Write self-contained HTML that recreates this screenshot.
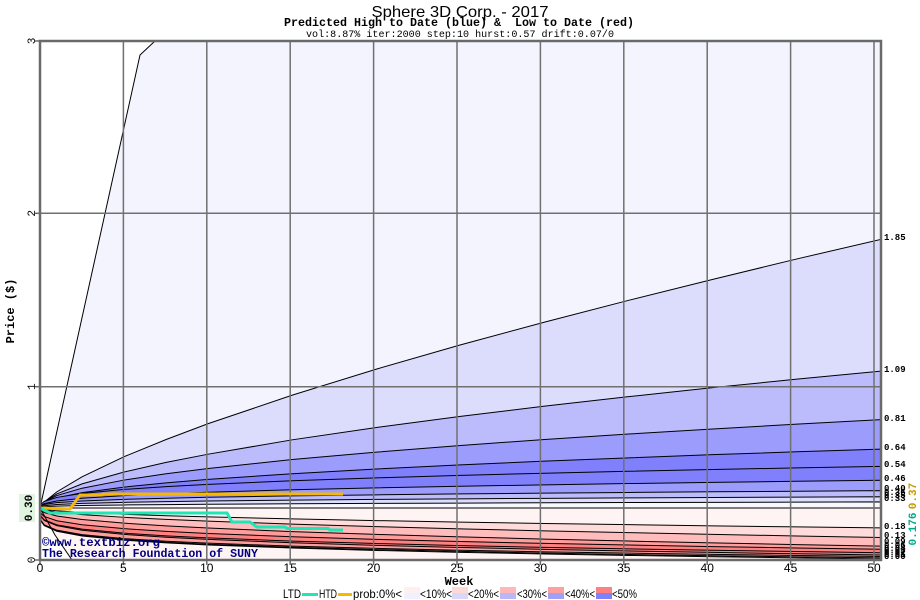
<!DOCTYPE html>
<html><head><meta charset="utf-8"><style>
html,body{margin:0;padding:0;background:#fff;}
svg{display:block;}
.vn{vector-effect:non-scaling-stroke;}
.mono{font-family:"Liberation Mono",monospace;}
.sans{font-family:"Liberation Sans",sans-serif;}
</style></head><body>
<svg width="920" height="600" viewBox="0 0 920 600" xmlns="http://www.w3.org/2000/svg">
<rect x="0" y="0" width="920" height="600" fill="#fff"/>
<defs><clipPath id="pc"><rect x="40" y="41" width="841" height="519"/></clipPath></defs>
<g clip-path="url(#pc)">
<!-- blue max band -->
<polygon points="40,508 140,55 155,41 881,41 881,508" fill="#F4F4FF"/>
<!-- blue percentiles -->
<path transform="translate(40 508) scale(0.841 -0.26867)" fill="#DCDCFC" stroke="#000" stroke-width="1" class="vn" d="M0,0L1,7L5,22L20,60L50,116L100,191L150,255L200,314L300,420L400,517L500,607L600,692L700,773L800,851L900,927L1000,1000L1000,0Z"/>
<path transform="translate(40 508) scale(0.841 -0.13693)" fill="#BCBCFC" stroke="#000" stroke-width="1" class="vn" d="M0,0L1,18L5,46L20,103L50,176L100,263L150,333L200,393L300,498L400,588L500,669L600,744L700,813L800,879L900,941L1000,1000L1000,0Z"/>
<path transform="translate(40 508) scale(0.841 -0.08840)" fill="#9C9CFC" stroke="#000" stroke-width="1" class="vn" d="M0,0L1,32L5,71L20,141L50,224L100,316L150,387L200,447L300,548L400,632L500,707L600,775L700,837L800,894L900,949L1000,1000L1000,0Z"/>
<path transform="translate(40 508) scale(0.841 -0.05893)" fill="#8080FC" stroke="#000" stroke-width="1" class="vn" d="M0,0L1,45L5,92L20,172L50,260L100,355L150,426L200,485L300,582L400,662L500,732L600,795L700,851L800,905L900,954L1000,1000L1000,0Z"/>
<path transform="translate(40 508) scale(0.841 -0.04160)" fill="#8080FC" stroke="#000" stroke-width="1" class="vn" d="M0,0L1,89L5,157L20,254L50,350L100,447L150,515L200,569L300,656L400,725L500,784L600,836L700,882L800,925L900,964L1000,1000L1000,0Z"/>
<path transform="translate(40 508) scale(0.841 -0.02773)" fill="#9C9CFC" stroke="#000" stroke-width="1" class="vn" d="M0,0L1,89L5,157L20,254L50,350L100,447L150,515L200,569L300,656L400,725L500,784L600,836L700,882L800,925L900,964L1000,1000L1000,0Z"/>
<path transform="translate(40 508) scale(0.841 -0.01733)" fill="#BCBCFC" stroke="#000" stroke-width="1" class="vn" d="M0,0L1,126L5,204L20,309L50,407L100,501L150,566L200,617L300,697L400,760L500,812L600,858L700,898L800,935L900,969L1000,1000L1000,0Z"/>
<path transform="translate(40 508) scale(0.841 -0.01127)" fill="#DCDCFC" stroke="#000" stroke-width="1" class="vn" d="M0,0L1,126L5,204L20,309L50,407L100,501L150,566L200,617L300,697L400,760L500,812L600,858L700,898L800,935L900,969L1000,1000L1000,0Z"/>
<path transform="translate(40 508) scale(0.841 -0.00607)" fill="#F8F8FF" stroke="#000" stroke-width="1" class="vn" d="M0,0L1,126L5,204L20,309L50,407L100,501L150,566L200,617L300,697L400,760L500,812L600,858L700,898L800,935L900,969L1000,1000L1000,0Z"/>
<!-- red min band -->
<polygon points="40,508 55,535 72,560 881,560 881,508" fill="#FFF4F4"/>
<path transform="translate(40 508) scale(0.841 0.05096)" fill="#FFDCDC" stroke="#000" stroke-width="1" class="vn" d="M0,0L1,251L5,346L20,457L50,549L100,631L150,685L200,725L300,786L400,833L500,870L600,903L700,931L800,956L900,979L1000,1000L1000,0Z"/>
<path transform="translate(40 508) scale(0.841 0.04992)" fill="#FFBCBC" stroke="#000" stroke-width="1" class="vn" d="M0,0L1,251L5,346L20,457L50,549L100,631L150,685L200,725L300,786L400,833L500,870L600,903L700,931L800,956L900,979L1000,1000L1000,0Z"/>
<path transform="translate(40 508) scale(0.841 0.04853)" fill="#FF9C9C" stroke="#000" stroke-width="1" class="vn" d="M0,0L1,251L5,346L20,457L50,549L100,631L150,685L200,725L300,786L400,833L500,870L600,903L700,931L800,956L900,979L1000,1000L1000,0Z"/>
<path transform="translate(40 508) scale(0.841 0.04697)" fill="#FF8080" stroke="#000" stroke-width="1" class="vn" d="M0,0L1,178L5,266L20,376L50,473L100,562L150,622L200,669L300,740L400,795L500,841L600,880L700,915L800,946L900,974L1000,1000L1000,0Z"/>
<path transform="translate(40 508) scale(0.841 0.04472)" fill="#FF8080" stroke="#000" stroke-width="1" class="vn" d="M0,0L1,178L5,266L20,376L50,473L100,562L150,622L200,669L300,740L400,795L500,841L600,880L700,915L800,946L900,974L1000,1000L1000,0Z"/>
<path transform="translate(40 508) scale(0.841 0.04125)" fill="#FF9C9C" stroke="#000" stroke-width="1" class="vn" d="M0,0L1,126L5,204L20,309L50,407L100,501L150,566L200,617L300,697L400,760L500,812L600,858L700,898L800,935L900,969L1000,1000L1000,0Z"/>
<path transform="translate(40 508) scale(0.841 0.03813)" fill="#FFBCBC" stroke="#000" stroke-width="1" class="vn" d="M0,0L1,63L5,120L20,209L50,302L100,398L150,468L200,525L300,618L400,693L500,758L600,815L700,867L800,915L900,959L1000,1000L1000,0Z"/>
<path transform="translate(40 508) scale(0.841 0.02947)" fill="#FFDCDC" stroke="#000" stroke-width="1" class="vn" d="M0,0L1,32L5,71L20,141L50,224L100,316L150,387L200,447L300,548L400,632L500,707L600,775L700,837L800,894L900,949L1000,1000L1000,0Z"/>
<path transform="translate(40 508) scale(0.841 0.01993)" fill="#FFF4F4" stroke="#000" stroke-width="1" class="vn" d="M0,0L1,32L5,71L20,141L50,224L100,316L150,387L200,447L300,548L400,632L500,707L600,775L700,837L800,894L900,949L1000,1000L1000,0Z"/>
<line x1="40" y1="508" x2="881" y2="508" stroke="#000" stroke-width="1"/>
<polyline points="40,508 140,55 155,41" fill="none" stroke="#000" stroke-width="1"/>
<polyline points="40,508 55,535 72,560" fill="none" stroke="#000" stroke-width="1"/>
<!-- grid -->
<g stroke="#707070" stroke-width="1.5">
<line x1="123.4" y1="41" x2="123.4" y2="560"/>
<line x1="206.8" y1="41" x2="206.8" y2="560"/>
<line x1="290.2" y1="41" x2="290.2" y2="560"/>
<line x1="373.6" y1="41" x2="373.6" y2="560"/>
<line x1="457" y1="41" x2="457" y2="560"/>
<line x1="540.4" y1="41" x2="540.4" y2="560"/>
<line x1="623.8" y1="41" x2="623.8" y2="560"/>
<line x1="707.2" y1="41" x2="707.2" y2="560"/>
<line x1="790.6" y1="41" x2="790.6" y2="560"/>
<line x1="874" y1="41" x2="874" y2="560"/>
<line x1="40" y1="213.3" x2="881" y2="213.3"/>
<line x1="40" y1="386.7" x2="881" y2="386.7"/>
</g>
<!-- HTD / LTD -->
<polyline points="40,508 70,509 80,495 102,495 103,494 343,494" fill="none" stroke="#F8B800" stroke-width="3"/>
<polyline points="40,508 50,513 227,513 232,522 250,522 257,527 285,527 287,528.5 328,528.5 330,530 343,530" fill="none" stroke="#1EE6B4" stroke-width="3"/>
<!-- watermark -->
<text x="42" y="546" class="mono" font-weight="bold" font-size="12" fill="#000080" textLength="118" lengthAdjust="spacingAndGlyphs">©www.textbiz.org</text>
<text x="42" y="557" class="mono" font-weight="bold" font-size="12" fill="#000080" textLength="216" lengthAdjust="spacingAndGlyphs">The Research Foundation of SUNY</text>
</g>
<!-- border -->
<rect x="40" y="41" width="841" height="519" fill="none" stroke="#6A6A6A" stroke-width="2.5"/>
<g stroke="#6A6A6A" stroke-width="1.5">
<line x1="35" y1="41" x2="40" y2="41"/><line x1="35" y1="213.3" x2="40" y2="213.3"/><line x1="35" y1="386.7" x2="40" y2="386.7"/><line x1="35" y1="560" x2="40" y2="560"/>
<line x1="40" y1="560" x2="40" y2="565"/><line x1="123.4" y1="560" x2="123.4" y2="565"/><line x1="206.8" y1="560" x2="206.8" y2="565"/><line x1="290.2" y1="560" x2="290.2" y2="565"/><line x1="373.6" y1="560" x2="373.6" y2="565"/><line x1="457" y1="560" x2="457" y2="565"/><line x1="540.4" y1="560" x2="540.4" y2="565"/><line x1="623.8" y1="560" x2="623.8" y2="565"/><line x1="707.2" y1="560" x2="707.2" y2="565"/><line x1="790.6" y1="560" x2="790.6" y2="565"/><line x1="874" y1="560" x2="874" y2="565"/>
</g>
<!-- titles -->
<text x="460" y="17" class="sans" font-size="16" text-anchor="middle" textLength="177" lengthAdjust="spacingAndGlyphs">Sphere 3D Corp. - 2017</text>
<text x="459" y="26" class="mono" font-weight="bold" font-size="12" text-anchor="middle" textLength="350" lengthAdjust="spacingAndGlyphs" style="white-space:pre">Predicted High to Date (blue) &amp;  Low to Date (red)</text>
<text x="460" y="37" class="mono" font-size="10" text-anchor="middle" textLength="308" lengthAdjust="spacingAndGlyphs">vol:8.87% iter:2000 step:10 hurst:0.57 drift:0.07/0</text>
<!-- y labels -->
<g class="mono" font-size="11" text-anchor="middle">
<text transform="translate(35 41) rotate(-90)">3</text>
<text transform="translate(35 213.3) rotate(-90)">2</text>
<text transform="translate(35 386.7) rotate(-90)">1</text>
<text transform="translate(35 560) rotate(-90)">0</text>
</g>
<rect x="19" y="494" width="16" height="28" fill="#E0F4E0"/>
<text transform="translate(32 508) rotate(-90)" class="mono" font-weight="bold" font-size="11" text-anchor="middle">0.30</text>
<text transform="translate(14 311) rotate(-90)" class="mono" font-weight="bold" font-size="12" text-anchor="middle">Price ($)</text>
<!-- x labels -->
<g class="sans" font-size="12" text-anchor="middle">
<text x="40" y="572">0</text><text x="123.4" y="572">5</text><text x="206.8" y="572">10</text><text x="290.2" y="572">15</text><text x="373.6" y="572">20</text><text x="457" y="572">25</text><text x="540.4" y="572">30</text><text x="623.8" y="572">35</text><text x="707.2" y="572">40</text><text x="790.6" y="572">45</text><text x="874" y="572">50</text>
</g>
<text x="459" y="585" class="mono" font-weight="bold" font-size="12" text-anchor="middle">Week</text>
<!-- right labels -->
<g class="mono" font-weight="bold" font-size="9">
<text x="884" y="240">1.85</text>
<text x="884" y="372">1.09</text>
<text x="884" y="421">0.81</text>
<text x="884" y="450">0.64</text>
<text x="884" y="467">0.54</text>
<text x="884" y="481">0.46</text>
<text x="884" y="491">0.40</text>
<text x="884" y="495">0.36</text>
<text x="884" y="498">0.35</text>
<text x="884" y="501">0.33</text>
<text x="884" y="529">0.18</text>
<text x="884" y="538">0.13</text>
<text x="884" y="544">0.09</text>
<text x="884" y="548">0.06</text>
<text x="884" y="551">0.04</text>
<text x="884" y="553">0.03</text>
<text x="884" y="555">0.02</text>
<text x="884" y="557">0.01</text>
<text x="884" y="559">0.00</text>
</g>
<text transform="translate(916 496) rotate(-90)" class="mono" font-weight="bold" font-size="11" text-anchor="middle" fill="#C89600">0.37</text>
<text transform="translate(916 529) rotate(-90)" class="mono" font-weight="bold" font-size="11" text-anchor="middle" fill="#00A888">0.176</text>
<!-- legend -->
<g class="sans" font-size="12">
<text x="283" y="598" textLength="18" lengthAdjust="spacingAndGlyphs">LTD</text>
<rect x="302" y="593" width="16" height="3" fill="#1EE6B4"/>
<text x="319" y="598" textLength="18" lengthAdjust="spacingAndGlyphs">HTD</text>
<rect x="338" y="593" width="14" height="3" fill="#F8B800"/>
<text x="353" y="598" textLength="49" lengthAdjust="spacingAndGlyphs">prob:0%&lt;</text>
<rect x="404" y="587" width="16" height="6" fill="#FFF0F0"/><rect x="404" y="593" width="16" height="6" fill="#F0F0FF"/>
<text x="420" y="598" textLength="32" lengthAdjust="spacingAndGlyphs">&lt;10%&lt;</text>
<rect x="452" y="587" width="16" height="6" fill="#FFD8D8"/><rect x="452" y="593" width="16" height="6" fill="#D8D8F8"/>
<text x="468" y="598" textLength="31" lengthAdjust="spacingAndGlyphs">&lt;20%&lt;</text>
<rect x="500" y="587" width="16" height="6" fill="#FFB8B8"/><rect x="500" y="593" width="16" height="6" fill="#B8B8F8"/>
<text x="517" y="598" textLength="30" lengthAdjust="spacingAndGlyphs">&lt;30%&lt;</text>
<rect x="548" y="587" width="16" height="6" fill="#FFA0A0"/><rect x="548" y="593" width="16" height="6" fill="#A0A0F8"/>
<text x="565" y="598" textLength="30" lengthAdjust="spacingAndGlyphs">&lt;40%&lt;</text>
<rect x="596" y="587" width="16" height="6" fill="#FF8080"/><rect x="596" y="593" width="16" height="6" fill="#8080F8"/>
<text x="612" y="598" textLength="25" lengthAdjust="spacingAndGlyphs">&lt;50%</text>
</g>
</svg>
</body></html>
